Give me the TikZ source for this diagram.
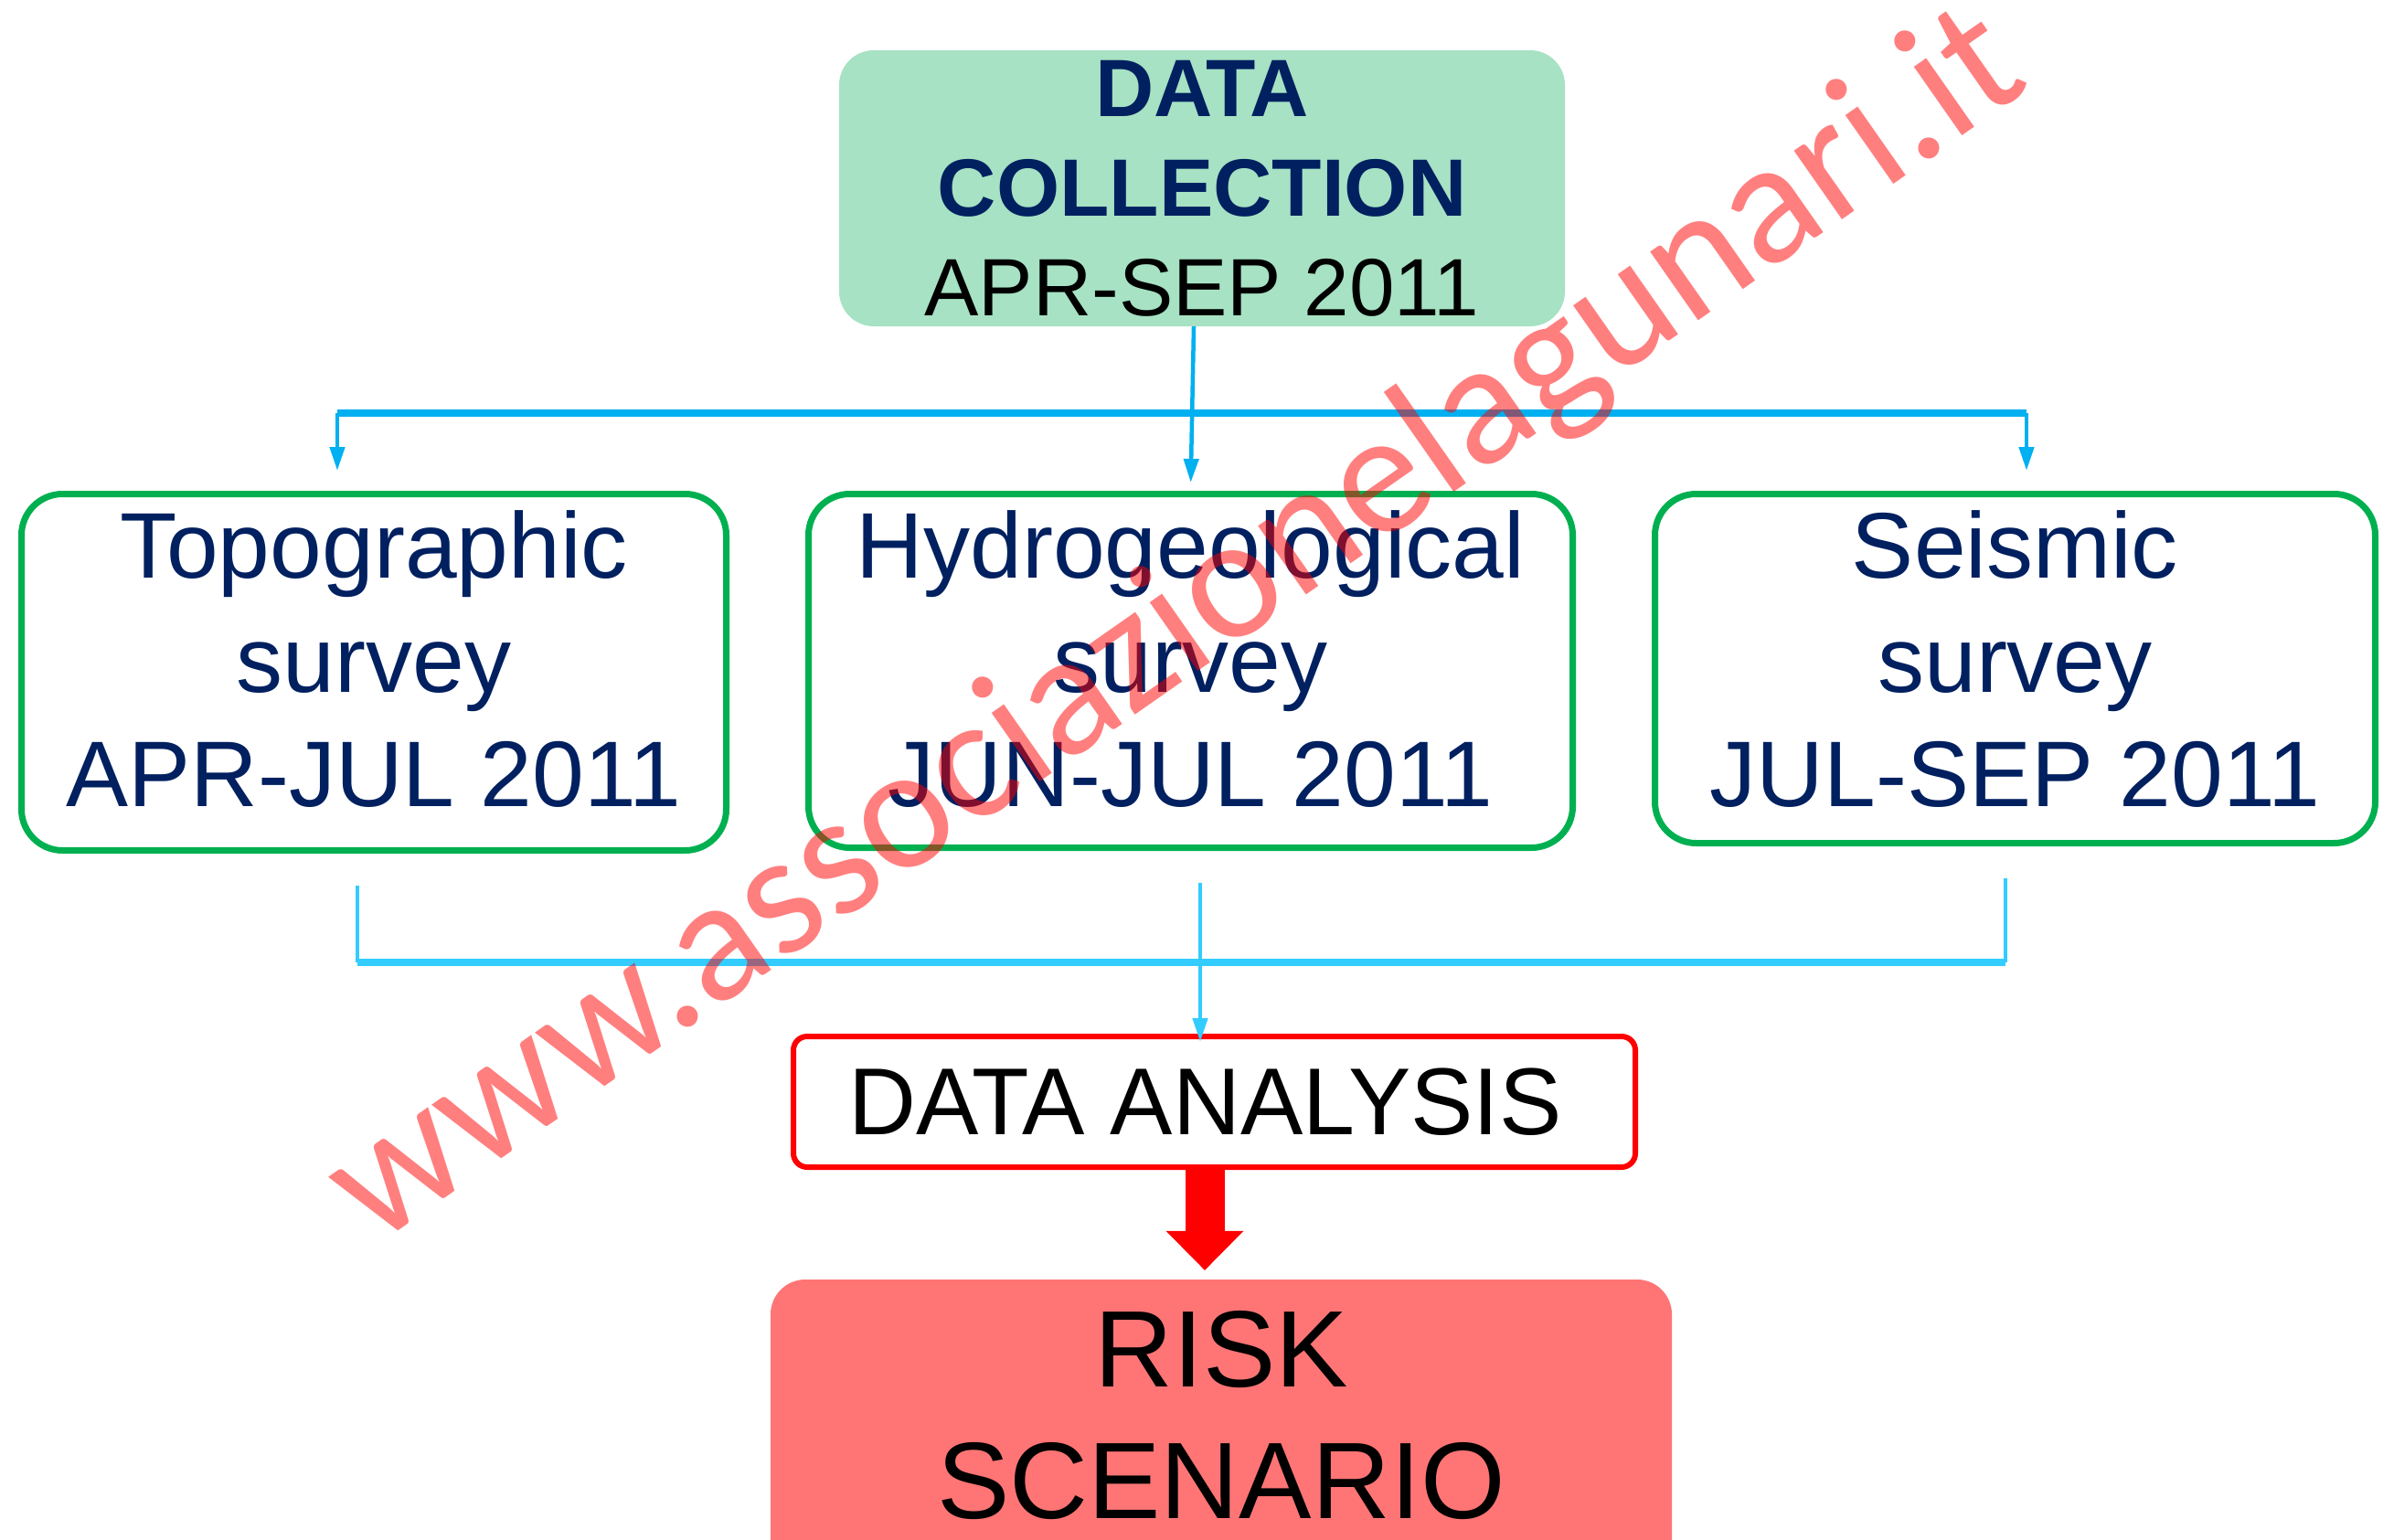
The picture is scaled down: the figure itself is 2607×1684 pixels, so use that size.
\documentclass[tikz,border=0pt]{standalone}
\usepackage{fontspec}
\setmainfont{Liberation Sans}
\newfontfamily\wmfont{Carlito}
\usetikzlibrary{arrows.meta}
\definecolor{navy}{HTML}{002060}
\definecolor{boxgreen}{HTML}{00B050}
\definecolor{topfill}{HTML}{A6E2C3}
\definecolor{riskfill}{HTML}{FF7575}
\definecolor{busblue}{HTML}{00B0F0}
\definecolor{buscyan}{HTML}{33CCFF}
\tikzset{
  topbox/.style={fill=topfill, draw=none, rounded corners=38pt, inner sep=0pt,
    minimum width=794pt, minimum height=302pt, align=center,
    font=\fontsize{89pt}{109pt}\selectfont},
  survbox/.style={draw=boxgreen, line width=7pt, rounded corners=45pt, inner sep=0pt,
    align=center, text=navy, font=\fontsize{102pt}{125pt}\selectfont},
  anbox/.style={draw=red, line width=6pt, rounded corners=15pt, inner sep=0pt,
    minimum width=921pt, minimum height=143pt, font=\fontsize{104pt}{125pt}\selectfont},
  riskbox/.style={fill=riskfill, draw=none, rounded corners=38pt, inner sep=0pt,
    minimum width=986pt, minimum height=360pt, align=center, text depth=65pt,
    font=\fontsize{119pt}{144pt}\selectfont},
  tipb/.style={-{Triangle[length=26pt,width=16pt]}},
  thinblue/.style={draw=busblue, line width=4.5pt},
  thickblue/.style={draw=busblue, line width=8pt},
  thincyan/.style={draw=buscyan, line width=4.5pt},
  thickcyan/.style={draw=buscyan, line width=8pt},
  watermark/.style={text=red, text opacity=0.5, inner sep=0pt,
    font=\wmfont\fontsize{192pt}{200pt}\selectfont}
}
\begin{document}
\begin{tikzpicture}[x=1pt,y=-1pt]
\useasboundingbox[fill=white] (0,0) rectangle (2607,1684);

\node[topbox] (dc) at (1315,206)
  {\textcolor{navy}{\bfseries DATA}\\\textcolor{navy}{\bfseries COLLECTION}\\APR-SEP 2011};

\node[survbox, minimum width=771pt, minimum height=390pt, text depth=30pt] (topo) at (409,735.5)
  {Topographic\\survey\\APR-JUL 2011};
\node[survbox, minimum width=836pt, minimum height=387pt, text depth=27pt] (hyd) at (1302.5,734)
  {Hydrogeological\\survey\\JUN-JUL 2011};
\node[survbox, minimum width=788pt, minimum height=382pt, text depth=22pt] (seis) at (2204.5,731.5)
  {Seismic\\survey\\JUL-SEP 2011};

\node[anbox] (da) at (1328.5,1205.5) {\hspace*{-20pt}\scalebox{0.985}[1]{DATA ANALYSIS}};

\node[riskbox] (risk) at (1336,1580) {RISK\\SCENARIO};

% top distribution
\coordinate (busL) at (369,452);
\coordinate (busR) at (2217,452);
\draw[thickblue] (busL) -- (busR);
\draw[thinblue, tipb, shorten >=9pt] ([xshift=-9pt]dc.south) -- (hyd.north);
\draw[thinblue, tipb, shorten >=22pt] (busL) -- (busL |- topo.north);
\draw[thinblue, tipb, shorten >=22pt] (busR) -- (busR |- seis.north);

% bottom collection
\coordinate (jL) at (391,1053);
\coordinate (jR) at (2194,1053);
\coordinate (jM) at (1313,1053);
\draw[thickcyan] (jL) -- (jR);
\draw[thincyan, shorten <=35pt] (jL |- topo.south) -- (jL);
\draw[thincyan, shorten <=35pt] (jR |- seis.south) -- (jR);
\draw[thincyan, tipb, shorten <=35pt, shorten >=-9pt] (jM |- hyd.south) -- (jM |- da.north);

% red block arrow
\coordinate (ra) at (1318,0);
\draw[red, line width=43pt, -{Triangle[length=43pt,width=85pt,line width=0pt]}, shorten >=10pt]
  (ra |- da.south) -- (ra |- risk.north);

% watermark
\node[watermark, anchor=base west, rotate=35] (wm) at (410,1365) {www.associazionelagunari.it};
\end{tikzpicture}
\end{document}
